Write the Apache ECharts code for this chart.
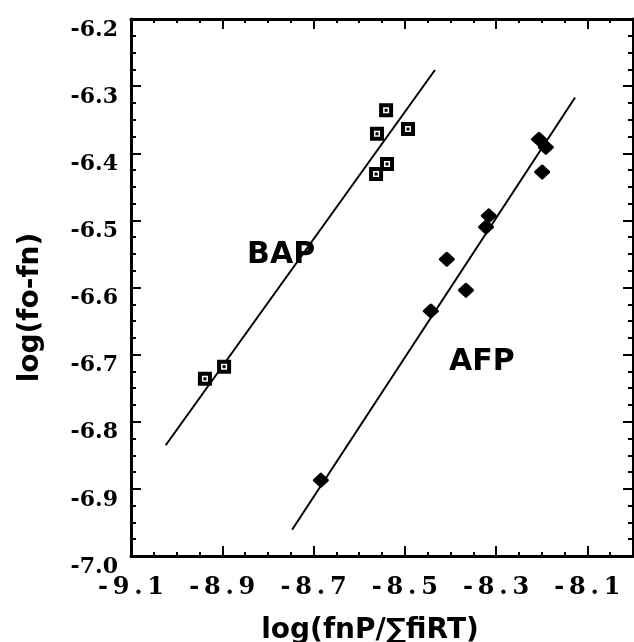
<!DOCTYPE html>
<html><head><meta charset="utf-8">
<script src="https://cdn.jsdelivr.net/npm/echarts@6/dist/echarts.min.js"></script>
<style>html,body{margin:0;padding:0;background:#fff}#c{width:634px;height:642px}</style>
</head><body><div id="c"></div>
<script>
// BAP (open squares)
const bapX = [-8.938, -8.896, -8.541, -8.561, -8.493, -8.539, -8.563];
const bapY = [-6.736, -6.718, -6.336, -6.371, -6.364, -6.416, -6.431];
// AFP (filled diamonds)
const afpX = [-8.684, -8.443, -8.408, -8.366, -8.322, -8.316, -8.206, -8.191, -8.199];
const afpY = [-6.887, -6.635, -6.558, -6.604, -6.510, -6.493, -6.379, -6.391, -6.428];
// fitted lines (end points)
const bapFitX = [-9.024, -8.434];
const bapFitY = [-6.835, -6.276];
const afpFitX = [-8.747, -8.127];
const afpFitY = [-6.961, -6.317];
// in-plot series labels
const seriesNames = ['BAP', 'AFP'];
const labelX = [-8.771, -8.331];
const labelY = [-6.552, -6.712];
// axis ticks
const xTickLabels = [-9.1, -8.9, -8.7, -8.5, -8.3, -8.1];
const xMinorTicks = [-9.05, -9.0, -8.95, -8.85, -8.8, -8.75, -8.65, -8.6, -8.55, -8.45, -8.4, -8.35, -8.25, -8.2, -8.15, -8.05];
const xMin = -9.1, xMax = -8.0;
const yMin = -7.0, yMax = -6.2, yStep = 0.1;
const xTitle = 'log(fnP/\u2211fiRT)';
const yTitle = 'log(fo-fn)';

const pairs = (xs, ys) => xs.map((x, i) => [x, ys[i]]);
const black = '#000';
const tickFont = {fontFamily: 'DejaVu Serif', fontWeight: 'bold', color: black};
const titleFont = {fontFamily: 'DejaVu Sans', fontWeight: 'bold', color: black, fontSize: 28};

const baseX = {type: 'value', min: xMin, max: xMax, splitLine: {show: false}};
const chart = echarts.init(document.getElementById('c'), null, {renderer: 'canvas'});
chart.setOption({
  animation: false,
  backgroundColor: '#fff',
  grid: {left: 131, right: 1, top: 19, bottom: 86, outerBoundsMode: 'none'},
  xAxis: [
    Object.assign({}, baseX, {
      position: 'bottom',
      axisLine: {show: true, lineStyle: {color: black, width: 3}},
      axisTick: {show: true, inside: true, length: 10, customValues: xTickLabels, lineStyle: {color: black, width: 2}},
      axisLabel: {show: true, customValues: xTickLabels, margin: 20, fontSize: 24,
        formatter: v => Number(v).toFixed(1).split('').join('\u2009'), ...tickFont},
      name: xTitle, nameLocation: 'middle', nameGap: 61,
      nameTextStyle: Object.assign({}, titleFont, {padding: [0, 24, 0, 0]})
    }),
    Object.assign({}, baseX, {
      position: 'bottom',
      axisLine: {show: false},
      axisTick: {show: true, inside: true, length: 4, customValues: xMinorTicks, lineStyle: {color: black, width: 2}},
      axisLabel: {show: false}
    }),
    Object.assign({}, baseX, {
      position: 'top',
      axisLine: {show: true, lineStyle: {color: black, width: 3}},
      axisTick: {show: true, inside: true, length: 10, customValues: xTickLabels, lineStyle: {color: black, width: 2}},
      axisLabel: {show: false}
    }),
    Object.assign({}, baseX, {
      position: 'top',
      axisLine: {show: false},
      axisTick: {show: true, inside: true, length: 4, customValues: xMinorTicks, lineStyle: {color: black, width: 2}},
      axisLabel: {show: false}
    })
  ],
  yAxis: [
    {
      type: 'value', position: 'left', min: yMin, max: yMax, interval: yStep,
      splitLine: {show: false},
      axisLine: {show: true, lineStyle: {color: black, width: 3}},
      axisTick: {show: true, inside: true, length: 10, lineStyle: {color: black, width: 2}},
      minorTick: {show: true, splitNumber: 4, length: 5, lineStyle: {color: black, width: 2}},
      axisLabel: {show: true, margin: 13, fontSize: 22, verticalAlign: 'top',
        formatter: v => Number(v).toFixed(1), ...tickFont},
      name: yTitle, nameLocation: 'middle', nameRotate: 90, nameGap: 86,
      nameTextStyle: Object.assign({}, titleFont, {padding: [0, 40, 0, 0]})
    },
    {
      type: 'value', position: 'right', min: yMin, max: yMax, interval: yStep,
      splitLine: {show: false},
      axisLine: {show: true, lineStyle: {color: black, width: 3}},
      axisTick: {show: true, inside: true, length: 10, lineStyle: {color: black, width: 2}},
      minorTick: {show: true, splitNumber: 4, length: 5, lineStyle: {color: black, width: 2}},
      axisLabel: {show: false}
    }
  ],
  series: [
    {type: 'line', name: 'BAP fit', data: pairs(bapFitX, bapFitY), symbol: 'none',
      lineStyle: {color: black, width: 2}, z: 2},
    {type: 'line', name: 'AFP fit', data: pairs(afpFitX, afpFitY), symbol: 'none',
      lineStyle: {color: black, width: 2}, z: 2},
    {type: 'scatter', name: 'BAP', data: pairs(bapX, bapY), symbol: 'rect', symbolSize: 10,
      itemStyle: {color: '#fff', borderColor: black, borderWidth: 4, opacity: 1}, z: 3},
    {type: 'scatter', name: 'BAP dot', data: pairs(bapX, bapY), symbol: 'rect', symbolSize: 3,
      itemStyle: {color: black, opacity: 1}, z: 4},
    {type: 'scatter', name: 'AFP', data: pairs(afpX, afpY), symbol: 'diamond', symbolSize: [13, 12],
      itemStyle: {color: black, borderColor: black, borderWidth: 3, borderJoin: 'round', opacity: 1}, z: 3},
    {type: 'scatter', name: 'labels', symbolSize: 1, silent: true,
      data: seriesNames.map((n, i) => ({name: n, value: [labelX[i], labelY[i]]})),
      itemStyle: {color: 'rgba(0,0,0,0)', opacity: 1},
      label: {show: true, position: 'inside', formatter: '{b}', fontFamily: 'DejaVu Sans',
        fontWeight: 'bold', fontSize: 30, color: black, opacity: 1}, z: 5}
  ]
});
</script></body></html>
